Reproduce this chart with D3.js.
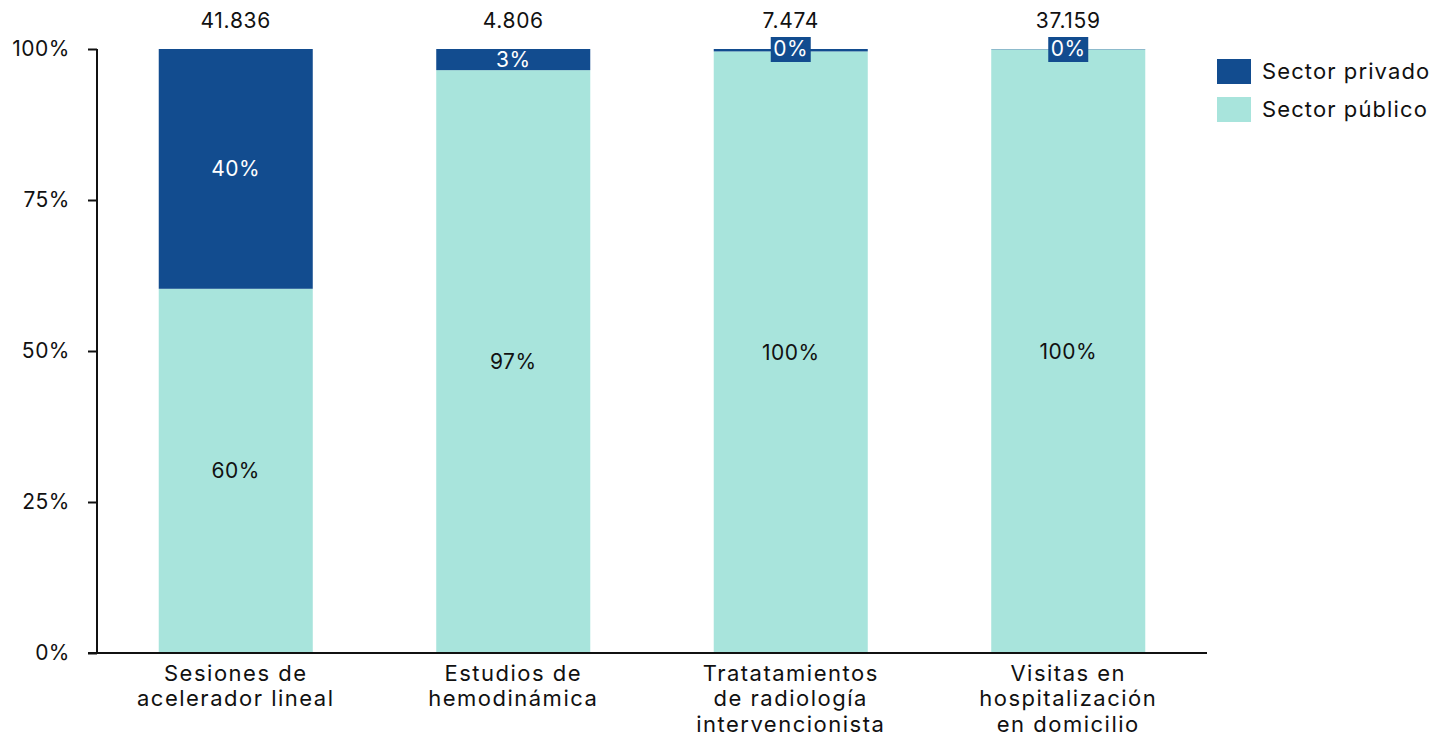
<!DOCTYPE html>
<html><head><meta charset="utf-8">
<script src="https://cdn.jsdelivr.net/npm/d3@7"></script>
<style>
body{margin:0;background:#fff;}
svg{font-family:"Inter","Open Sans",sans-serif;}
</style></head>
<body><svg id="c" width="1442" height="737"></svg>
<script>
const categories = [["Sesiones de","acelerador lineal"],["Estudios de","hemodinámica"],["Tratatamientos","de radiología","intervencionista"],["Visitas en","hospitalización","en domicilio"]];
const totals = ["41.836","4.806","7.474","37.159"];
const privado = [39.7, 3.5, 0.4, 0.05];
const publico = [60.3, 96.5, 99.6, 99.95];
const privLabels = ["40%","3%","0%","0%"];
const pubLabels = ["60%","97%","100%","100%"];
const seriesNames = ["Sector privado","Sector público"];
const yTicks = [0,25,50,75,100];
const colPriv = "#124c8f", colPub = "#a8e4dc";

const svg = d3.select("#c");
const m = {l:97, r:1207, t:49, b:653};
const x = d3.scaleBand().domain(d3.range(categories.length)).range([m.l, m.r]).paddingInner(0.445).paddingOuter(0.2225);
const y = d3.scaleLinear().domain([0,100]).range([m.b, m.t]);

const g = svg.append("g");
categories.forEach((c,i)=>{
  const x0 = x(i), w = x.bandwidth();
  g.append("rect").attr("x",x0).attr("width",w).attr("y",y(publico[i])).attr("height",y(0)-y(publico[i])).attr("fill",colPub);
  g.append("rect").attr("x",x0).attr("width",w).attr("y",y(100)).attr("height",y(publico[i])-y(100)).attr("fill",colPriv);
  const cx = x0 + w/2;
  g.append("text").attr("x",cx).attr("y",(y(publico[i])+y(0))/2).attr("dy","0.35em").attr("text-anchor","middle").attr("font-size",21).attr("letter-spacing",0.5).attr("fill","#111").text(pubLabels[i]);
  const py = (y(100)+y(publico[i]))/2;
  const segH = y(publico[i])-y(100);
  if (segH < 10) {
    const t = g.append("text").attr("x",cx).attr("y",y(100)).attr("dy","0.35em").attr("text-anchor","middle").attr("font-size",21).attr("letter-spacing",0.5).attr("fill","#fff").text(privLabels[i]);
    const bb = t.node().getBBox();
    g.insert("rect", () => t.node()).attr("x",cx-20).attr("y",y(100)-12).attr("width",40).attr("height",25).attr("fill",colPriv);
  } else {
    g.append("text").attr("x",cx).attr("y",py).attr("dy","0.35em").attr("text-anchor","middle").attr("font-size",21).attr("letter-spacing",0.5).attr("fill","#fff").text(privLabels[i]);
  }
  g.append("text").attr("x",cx).attr("y",21).attr("dy","0.35em").attr("text-anchor","middle").attr("font-size",21).attr("letter-spacing",0.7).attr("fill","#111").text(totals[i]);
  const lab = g.append("text").attr("text-anchor","middle").attr("font-size",22).attr("letter-spacing",1.5).attr("fill","#111");
  c.forEach((ln,j)=>lab.append("tspan").attr("x",cx).attr("y",673+j*25.5).attr("dy","0.35em").text(ln));
});

const ya = svg.append("g").attr("transform",`translate(${m.l},0)`)
  .call(d3.axisLeft(y).tickValues(yTicks).tickFormat(d=>d+"%").tickSize(9).tickPadding(18));
ya.select(".domain").remove();
ya.selectAll("line").attr("stroke","#111").attr("stroke-width",2);
ya.selectAll("text").attr("font-size",21).attr("letter-spacing",0.5).attr("fill","#111").attr("font-family","Inter, sans-serif");
svg.append("line").attr("x1",m.l).attr("x2",m.l).attr("y1",m.t).attr("y2",m.b).attr("stroke","#111").attr("stroke-width",2);
svg.append("line").attr("x1",m.l-9).attr("x2",m.r).attr("y1",m.b).attr("y2",m.b).attr("stroke","#111").attr("stroke-width",2);

const leg = svg.append("g");
[colPriv,colPub].forEach((col,i)=>{
  leg.append("rect").attr("x",1217).attr("y",59+i*38).attr("width",34).attr("height",25).attr("fill",col);
  leg.append("text").attr("x",1262).attr("y",71.5+i*38).attr("dy","0.35em").attr("font-size",22).attr("letter-spacing",1.1).attr("fill","#111").text(seriesNames[i]);
});
</script></body></html>
